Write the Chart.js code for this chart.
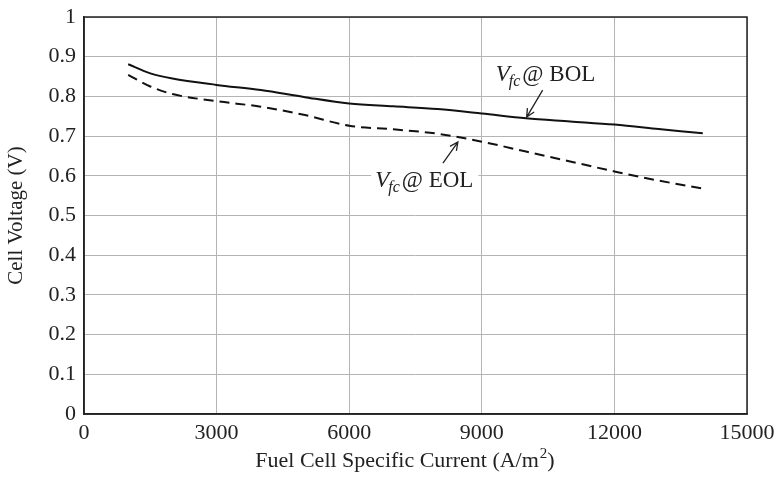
<!DOCTYPE html>
<html>
<head>
<meta charset="utf-8">
<script src="https://cdn.jsdelivr.net/npm/chart.js@4/dist/chart.umd.min.js"></script>
<style>
  html, body { margin: 0; padding: 0; background: #fff; }
  #wrap { width: 779px; height: 480px; }
</style>
</head>
<body>
<div id="wrap"><canvas id="fc"></canvas></div>
<script>
// current density (A/m^2) and cell voltage (V)
const currentVals = [1000, 1500, 2000, 3000, 4000, 5000, 6000, 7000, 8000, 9000, 10000, 11000, 12000, 13000, 14000];
const bolVolts = [0.881, 0.858, 0.845, 0.829, 0.816, 0.798, 0.782, 0.775, 0.768, 0.757, 0.745, 0.737, 0.729, 0.718, 0.707];
const eolVolts = [0.854, 0.825, 0.806, 0.788, 0.774, 0.753, 0.726, 0.717, 0.706, 0.686, 0.661, 0.636, 0.611, 0.588, 0.568];

const xTicks = [0, 3000, 6000, 9000, 12000, 15000];
const yTicks = [0, 0.1, 0.2, 0.3, 0.4, 0.5, 0.6, 0.7, 0.8, 0.9, 1];

// label text + arrow (tail -> head) in data units
const notes = [
  {sub: 'fc', rest: '@ BOL', x: 9316, y: 0.839, box: false, tail: [10377, 0.816], head: [10015, 0.748]},
  {sub: 'fc', rest: '@ EOL', x: 6587, y: 0.572, box: true, tail: [8121, 0.632], head: [8459, 0.685]}
];

const serif = '"Liberation Serif", "Times New Roman", serif';

function pts(ys) {
  return currentVals.map(function(x, i) { return {x: x, y: ys[i]}; });
}

const notesPlugin = {
  id: 'notes',
  afterDraw: function(chart) {
    const ctx = chart.ctx;
    const xs = chart.scales.x, ys = chart.scales.y;
    const a = chart.chartArea;

    // frame round the plot
    ctx.save();
    ctx.strokeStyle = '#222';
    ctx.lineWidth = 1.5;
    ctx.strokeRect(a.left, a.top, a.right - a.left, a.bottom - a.top);

    // x title with a real superscript
    ctx.fillStyle = '#222';
    ctx.textBaseline = 'alphabetic';
    ctx.textAlign = 'left';
    const t1 = 'Fuel Cell Specific Current (A/m', t2 = '2', t3 = ')';
    ctx.font = '22px ' + serif;
    const w1 = ctx.measureText(t1).width, w3 = ctx.measureText(t3).width;
    ctx.font = '15px ' + serif;
    const w2 = ctx.measureText(t2).width;
    let tx0 = (a.left + a.right) / 2 - 11 - (w1 + w2 + w3) / 2;
    const tb = a.bottom + 53;
    ctx.font = '22px ' + serif;
    ctx.fillText(t1, tx0, tb);
    ctx.font = '15px ' + serif;
    ctx.fillText(t2, tx0 + w1 + 1, tb - 9);
    ctx.font = '22px ' + serif;
    ctx.fillText(t3, tx0 + w1 + w2 + 1, tb);

    notes.forEach(function(n) {
      const px = xs.getPixelForValue(n.x);
      const py = ys.getPixelForValue(n.y);

      ctx.font = 'italic 23px ' + serif;
      const wV = ctx.measureText('V').width;
      ctx.font = 'italic 16px ' + serif;
      const wS = ctx.measureText(n.sub).width;
      ctx.font = '23px ' + serif;
      const wR = ctx.measureText(n.rest).width;

      if (n.box) {
        ctx.fillStyle = '#fff';
        ctx.fillRect(px - 4, py - 21, wV + wS + wR + 10, 32);
      }
      ctx.fillStyle = '#222';
      ctx.font = 'italic 23px ' + serif;
      ctx.fillText('V', px, py);
      ctx.font = 'italic 16px ' + serif;
      ctx.fillText(n.sub, px + wV - 1, py + 5);
      ctx.font = '23px ' + serif;
      ctx.fillText(n.rest, px + wV + wS + 1, py);

      // arrow
      const tx = xs.getPixelForValue(n.tail[0]), ty = ys.getPixelForValue(n.tail[1]);
      const hx = xs.getPixelForValue(n.head[0]), hy = ys.getPixelForValue(n.head[1]);
      const ang = Math.atan2(hy - ty, hx - tx);
      ctx.strokeStyle = '#222';
      ctx.lineWidth = 1.3;
      ctx.beginPath();
      ctx.moveTo(tx, ty);
      ctx.lineTo(hx, hy);
      ctx.moveTo(hx - 9 * Math.cos(ang - 0.45), hy - 9 * Math.sin(ang - 0.45));
      ctx.lineTo(hx, hy);
      ctx.lineTo(hx - 9 * Math.cos(ang + 0.45), hy - 9 * Math.sin(ang + 0.45));
      ctx.stroke();
    });
    ctx.restore();
  }
};

new Chart(document.getElementById('fc'), {
  type: 'scatter',
  data: {
    datasets: [
      {
        label: 'BOL',
        data: pts(bolVolts),
        showLine: true,
        borderColor: '#111',
        borderWidth: 2,
        pointRadius: 0,
        cubicInterpolationMode: 'monotone'
      },
      {
        label: 'EOL',
        data: pts(eolVolts),
        showLine: true,
        borderColor: '#111',
        borderWidth: 2,
        borderDash: [10, 6],
        pointRadius: 0,
        cubicInterpolationMode: 'monotone'
      }
    ]
  },
  options: {
    responsive: true,
    maintainAspectRatio: false,
    animation: false,
    layout: { padding: {top: 17, right: 32, left: 0, bottom: 0} },
    plugins: {
      legend: { display: false },
      tooltip: { enabled: false }
    },
    scales: {
      x: {
        type: 'linear',
        min: 0,
        max: 15000,
        afterBuildTicks: function(s) { s.ticks = xTicks.map(function(v) { return {value: v}; }); },
        afterFit: function(s) { s.height = 66; s.paddingRight = 0; },
        grid: { color: '#b4b4b4', lineWidth: 1, drawTicks: false },
        border: { color: '#222', width: 1.5 },
        ticks: {
          color: '#222',
          padding: 6,
          maxRotation: 0,
          font: { family: serif, size: 22 },
          callback: function(v) { return String(v); }
        },
        title: { display: false }
      },
      y: {
        min: 0,
        max: 1,
        afterBuildTicks: function(s) { s.ticks = yTicks.map(function(v) { return {value: v}; }); },
        afterFit: function(s) { s.width = 84; s.paddingTop = 0; s.paddingBottom = 0; },
        grid: { color: '#b4b4b4', lineWidth: 1, drawTicks: false },
        border: { color: '#222', width: 1.5 },
        ticks: {
          color: '#222',
          padding: 8,
          font: { family: serif, size: 22, lineHeight: 1 },
          callback: function(v) { return (v === 0 || v === 1) ? String(v) : v.toFixed(1); }
        },
        title: {
          display: true,
          text: 'Cell Voltage (V)',
          color: '#222',
          padding: {bottom: 2},
          font: { family: serif, size: 21 }
        }
      }
    }
  },
  plugins: [notesPlugin]
});
</script>
</body>
</html>
